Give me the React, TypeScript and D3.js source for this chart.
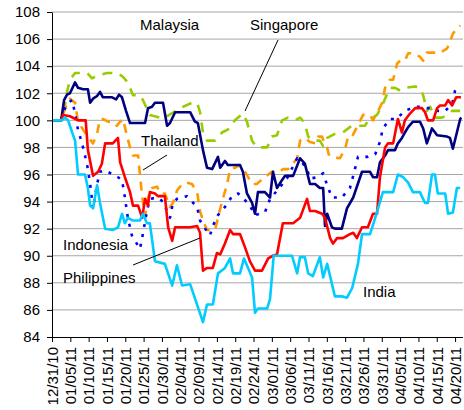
import React, { useEffect, useRef } from "react";
import * as d3 from "d3";

// day offsets from 12/31/10, index values (start = 100)
const malaysia: [number, number][] = [
  [0, 100], [2.5, 100], [3.3, 101.5], [4.1, 101.9], [4.9, 102], [6.3, 102.8], [7.1, 102.4], [8.5, 102.3],
  [9.8, 102.3], [10.4, 101.3], [11.2, 101.6], [12.3, 101.8], [13.1, 102.1], [13.9, 101.7], [16.4, 101.7],
  [17.5, 101.55], [18.3, 101.9], [19.1, 101.7], [20.2, 100.7], [21.3, 99.8], [25.4, 99.8], [26.2, 100.9],
  [27.3, 101], [28.1, 101.3], [30.3, 101.3], [31.4, 99.6], [32.2, 99.8], [33.6, 100.6], [37.7, 100.6],
  [39, 99.9], [39.8, 99.8], [41.2, 97.8], [42.3, 96.5], [43.7, 96.4], [45.3, 97.3], [45.9, 96.5], [47.2, 97],
  [48, 96.7], [51.3, 96.7], [52.1, 96.2], [53.2, 94.6], [54.6, 93.9], [55.4, 93.1], [56.2, 94.7], [58.1, 94.7],
  [59.5, 94.3], [60.3, 96.2], [61.4, 95], [62.8, 95.6], [63.6, 95.9], [65.8, 95.9], [67.7, 97.2], [69, 96.8],
  [70.4, 95.3], [71.8, 95.3], [73.1, 95], [74, 95], [74.5, 92.2], [75.1, 93.1], [76.4, 92.1], [77.2, 92],
  [79.1, 92], [80.5, 93.5], [82.2, 94.3], [84.6, 96.2], [86.8, 96.2], [87.6, 95.8], [88.7, 95.8], [89.5, 96.9],
  [90.9, 97.4], [91.7, 97.8], [93.6, 97.8], [94.4, 98.3], [95.5, 98.7], [96.3, 99.1], [97.2, 99.5], [98.5, 99.9],
  [100.4, 99.9], [101.3, 99.4], [102.3, 98.3], [103.7, 99.4], [105.1, 98.9], [107.8, 98.8], [108.6, 98.7],
  [109.4, 97.9], [111.4, 100.1], [111.7, 100.2],
];

const philippines: [number, number][] = [
  [0, 100], [2.5, 100], [3, 100.4], [4.9, 100.3], [7.1, 100], [9.2, 100], [9.8, 97.8], [11.2, 95.9],
  [12.6, 96.2], [13.6, 96.8], [14.5, 98.3], [16.6, 98.3], [18, 98.7], [18.6, 96.9], [19.9, 95.8], [21.3, 94.7],
  [22.1, 93.7], [23.5, 93.7], [24.6, 92.8], [25.4, 94.2], [26.2, 93.7], [26.7, 94.7], [28.1, 94.6], [28.9, 94.4],
  [30.8, 94.4], [31.7, 92.1], [32.8, 91.1], [33.6, 92.1], [37.7, 92.1], [39.6, 92.2], [40.4, 91.7], [41.2, 88.9],
  [42.3, 89.1], [43.9, 89.1], [45, 90.2], [45.9, 90.1], [47.2, 90.9], [48.6, 91.9], [49.4, 91.6], [51.3, 91.6],
  [52.7, 90.6], [54, 89.6], [55.4, 88.9], [57.3, 88.9], [59, 89.8], [60.3, 90], [61.4, 90.1], [63, 92.4],
  [65.8, 92.4], [67.7, 92.8], [69.6, 94.2], [70.4, 93.3], [71.8, 93.3], [73.7, 93.1], [74.5, 92.8], [75.9, 91.3],
  [76.7, 90.9], [77.8, 91.3], [79.4, 91.3], [81.3, 91.6], [82.2, 91.7], [83.2, 91.3], [84.6, 92.1], [86.2, 92.1],
  [87.6, 93.1], [88.7, 93.1], [89.5, 95.8], [90.9, 98], [91.7, 98.3], [93.1, 98.3], [94.4, 100.1], [95.5, 99.1],
  [96.3, 100], [97.7, 100.5], [99.1, 100.9], [101, 100.9], [101.8, 100.6], [102.6, 100], [104, 100],
  [105.1, 100.9], [105.9, 101.1], [107.3, 101.1], [108.1, 101.5], [109.2, 101.1], [110.3, 101.7], [111.6, 101.7],
];

const india: [number, number][] = [
  [0, 100], [2.7, 100], [3.5, 100.2], [4.4, 100], [5.5, 99.1], [6.3, 98.5], [7.1, 96], [9, 96], [9.8, 95],
  [10.4, 93.7], [11.2, 93.5], [12.3, 95.2], [13.1, 93.9], [14.5, 92], [16.6, 91.9], [18, 92.1], [19.1, 93.1],
  [19.9, 92.4], [20.7, 92.8], [22.1, 92.6], [24, 92.6], [24.8, 93.1], [25.9, 92.4], [26.7, 92.4], [28.1, 89.6],
  [30.8, 89.4], [32.8, 87.8], [34.1, 89.3], [35.5, 87.8], [37.7, 87.9], [41.2, 85.1], [42.3, 86.4], [43.9, 86.4],
  [45.3, 88.7], [47.2, 89.1], [48.6, 89.8], [49.4, 88.7], [51.3, 88.7], [52.4, 89.8], [53.5, 89.1], [54.6, 88.4],
  [55.4, 85.8], [56.2, 86.1], [58.7, 86.1], [59.5, 86.8], [60.5, 90], [65.5, 90], [66.9, 88.7], [67.7, 89.9],
  [69, 89.9], [69.9, 88.7], [71.2, 88.5], [73.1, 89.9], [74, 88.4], [75.1, 89.4], [77.2, 87], [79.1, 87],
  [80.5, 86.9], [81.9, 87.6], [83.5, 89.4], [84.6, 91.6], [86.8, 91.6], [88.2, 92.8], [90.3, 94.7], [93.1, 94.7],
  [94.4, 96], [95.8, 95.8], [97.2, 95.4], [98.5, 94.7], [100.4, 94.7], [101.8, 93.9], [102.6, 93.9], [103.7, 96],
  [104.5, 96], [105.3, 94.6], [107.3, 94.6], [108.1, 93.1], [109.4, 93.2], [110.5, 95], [111.4, 95],
];

const singapore: [number, number][] = [
  [0, 100], [2.5, 100], [3.5, 101], [4.1, 102.1], [4.9, 103], [6.3, 103.5], [9.6, 103.5], [10.9, 103.1],
  [12.3, 103.3], [15, 103.5], [18, 103.5], [19.4, 103.2], [20.7, 102.8], [22.1, 101.85], [24, 101.85],
  [24.8, 101.5], [26.7, 100.4], [29.5, 100.2], [30.8, 100.2], [34.9, 100.9], [38.2, 101.3], [39.6, 101.3],
  [40.4, 100.6], [41.2, 99.1], [42.3, 98.5], [44.5, 98.5], [46.4, 99.1], [48.6, 99.4], [49.9, 100], [52.1, 100.5],
  [53.2, 99.9], [54.6, 98.5], [55.9, 98], [58.7, 98], [60, 98.8], [61.4, 98.9], [62.8, 100], [64.4, 100.2],
  [66.3, 100], [67.7, 100.2], [69, 99.8], [69.9, 98.8], [71, 98.5], [73.1, 98.5], [74, 98.1], [75.1, 98.7],
  [77.2, 99], [79.4, 99.1], [81.3, 99.5], [82.7, 99.6], [85.4, 99.6], [86.8, 100.2], [87.6, 100.2], [88.7, 100.4],
  [90.1, 101.1], [90.9, 101.6], [92.2, 102.4], [93.6, 102.4], [95, 102.2], [96.3, 102.4], [99.1, 102.5],
  [100.4, 102.4], [101.3, 101.85], [102.3, 100.7], [103.2, 101], [104.5, 100.2], [106.4, 100.2], [108.1, 100.4],
  [109.2, 100.7], [111.4, 100.7],
];

const thailand: [number, number][] = [
  [0, 100], [2.5, 100], [4.1, 101.3], [4.9, 101.6], [6.3, 101.3], [7.1, 99.9], [8.5, 99.3], [9.8, 98.8],
  [11.2, 98.3], [12.3, 99], [13.1, 100.1], [13.9, 100.1], [15.3, 99.9], [16.6, 99.9], [17.7, 99.6], [18.6, 99.9],
  [19.4, 100.1], [20.5, 98.8], [21.3, 98], [22.1, 97.4], [23.5, 97.4], [24, 96], [24.6, 94.4], [25.4, 92.9],
  [26.2, 94.3], [27.3, 95], [28.7, 95.1], [29.5, 94.6], [30.8, 94.6], [32.2, 93.6], [33, 93.9], [34.1, 94.8],
  [35.5, 95.3], [36.8, 95.4], [38.2, 95.3], [39.6, 94.7], [40.4, 93.3], [41.2, 92.6], [42.3, 91.9], [44.5, 91.9],
  [45.3, 92.8], [46.4, 94], [47.8, 95.3], [48.6, 96.4], [49.9, 96.5], [51.3, 96.7], [52.7, 96.2], [54.6, 95.3],
  [55.9, 95.3], [57.6, 95.7], [60, 96.2], [62.2, 96.2], [63, 96.4], [64.4, 96.4], [65.5, 96.7], [66.9, 97.2],
  [67.7, 98.5], [69, 98.7], [70.4, 98.4], [71.8, 98.3], [72.6, 98.8], [73.7, 98.8], [74.2, 98.4], [75.1, 98],
  [75.5, 97.5], [76.4, 97.3], [78.6, 97.2], [80, 97.9], [80.8, 98.8], [81.9, 98.8], [83.2, 99.5], [84.9, 100.4],
  [86.8, 100.4], [87.6, 100], [89, 100.7], [90.1, 101.3], [90.9, 102.4], [92.2, 103], [93.1, 103], [94.2, 104.2],
  [95, 104.4], [96.3, 104.4], [97.2, 104.95], [98.5, 104.95], [100.4, 104.7], [101.3, 104.4], [102.3, 105],
  [105.9, 105], [107.8, 105.3], [108.6, 105.8], [109.4, 106.4], [110.5, 106.8], [111.4, 107],
];

const indonesia: [number, number][] = [
  [0, 100], [2.5, 100], [3, 100.6], [4.4, 101.3], [5.5, 101.5], [6.3, 100.5], [7.1, 99.3], [8.2, 98.3],
  [9.6, 96.7], [10.4, 95.3], [11.2, 93.5], [12.3, 95.3], [13.1, 96.2], [14.5, 96.3], [16.6, 96], [18, 95.8],
  [19.1, 95.6], [19.9, 94.3], [20.7, 92.8], [21.8, 91.5], [24, 90.5], [24.8, 91.6], [25.9, 93.3], [26.7, 94.2],
  [28.7, 94.3], [30.3, 94], [31.4, 93.3], [32.2, 92.8], [33, 93.9], [34.1, 94.2], [36.8, 94.4], [39.6, 93.6],
  [40.4, 92.6], [41.8, 92], [43.1, 91.5], [43.9, 92.2], [45.3, 93], [47.8, 93.8], [49.1, 94.4], [50.8, 94.6],
  [52.7, 94.1], [54, 93.7], [55.4, 93], [58.1, 93.2], [59.5, 94.2], [61.7, 94.9], [64.1, 95.7], [66.9, 97.2],
  [68.2, 96.9], [69.6, 96.4], [70.4, 95.7], [72.6, 95.8], [74, 96.1], [75.1, 95.2], [76.4, 94.3], [79.1, 94.3],
  [81.3, 95], [82.2, 95.9], [83.5, 97.3], [86, 97.3], [88.2, 97.5], [89.5, 98.4], [90.3, 99.4], [92.2, 100.1],
  [94, 100.1], [96.3, 100.7], [99.1, 101], [100.4, 101], [102.3, 100.9], [103.7, 100.9], [105.3, 100.7],
  [107.3, 100.7], [109.2, 101.2], [110, 102.2], [110.5, 102.5],
];

const startDate = new Date(2010, 11, 31);
const yTicks = d3.range(84, 109, 2);
const xTickDays = d3.range(0, 111, 5);

const series = [
  { name: "Singapore", data: singapore, color: "#99cc00", dash: "10,8" },
  { name: "Thailand", data: thailand, color: "#ff9900", dash: "9,7" },
  { name: "Indonesia", data: indonesia, color: "#0000ff", dash: "3,7" },
  { name: "Malaysia", data: malaysia, color: "#000080", dash: null },
  { name: "Philippines", data: philippines, color: "#ff0000", dash: null },
  { name: "India", data: india, color: "#00ccff", dash: null },
];

const FONT = "Arial, 'Liberation Sans', sans-serif";

const App: React.FC = () => {
  const svgRef = useRef<SVGSVGElement | null>(null);

  useEffect(() => {
    if (!svgRef.current) return;
    const svg = d3.select(svgRef.current);
    svg.selectAll("*").remove();

    const left = 52, right = 462.4, top = 12, bottom = 337;

    const x = d3.scaleLinear().domain([0, 112]).range([left, right]);
    const y = d3.scaleLinear().domain([84, 108]).range([bottom, top]);
    const fmt = d3.timeFormat("%m/%d/%y");

    // gridlines
    svg.append("g")
      .selectAll("line")
      .data(yTicks.filter((t) => t !== 84))
      .join("line")
      .attr("x1", left)
      .attr("x2", 463)
      .attr("y1", (d) => y(d))
      .attr("y2", (d) => y(d))
      .attr("stroke", "#a6a6a6")
      .attr("stroke-width", 1);

    const line = d3.line<[number, number]>()
      .x((d) => x(d[0]))
      .y((d) => y(d[1]));

    series.forEach((s) => {
      svg.append("path")
        .datum(s.data)
        .attr("d", line)
        .attr("fill", "none")
        .attr("stroke", s.color)
        .attr("stroke-width", 2.6)
        .attr("stroke-linejoin", "round")
        .attr("stroke-dasharray", s.dash);
    });

    // y axis
    svg.append("g")
      .attr("transform", `translate(${left},0)`)
      .call(d3.axisLeft(y).tickValues(yTicks).tickSize(5).tickSizeOuter(0).tickPadding(7))
      .call((g) => g.selectAll("text").style("font-family", FONT).attr("font-size", "15px").attr("fill", "#000"));

    // x axis
    const xg = svg.append("g")
      .attr("transform", `translate(0,${bottom})`)
      .call(
        d3.axisBottom(x)
          .tickValues(xTickDays)
          .tickSize(5)
          .tickSizeOuter(0)
          .tickFormat((d) => fmt(d3.timeDay.offset(startDate, d as number)))
      );
    xg.select(".domain").attr("d", `M${left},0.5H463`);
    xg.selectAll("text")
      .attr("transform", "rotate(-90)")
      .attr("x", -10)
      .attr("y", 0)
      .attr("dy", "0.35em")
      .style("text-anchor", "end")
      .style("font-family", FONT)
      .attr("font-size", "15px")
      .attr("fill", "#000");

    // labels and leader lines
    const labels = [
      { t: "Malaysia", x: 140, y: 30 },
      { t: "Singapore", x: 250, y: 30 },
      { t: "Thailand", x: 141, y: 146 },
      { t: "Indonesia", x: 63, y: 250 },
      { t: "Philippines", x: 63, y: 283 },
      { t: "India", x: 363, y: 297 },
    ];
    svg.append("g")
      .selectAll("text")
      .data(labels)
      .join("text")
      .attr("x", (d) => d.x)
      .attr("y", (d) => d.y)
      .text((d) => d.t)
      .style("font-family", FONT)
      .attr("font-size", "15px")
      .attr("fill", "#000");

    const leaders = [
      [278, 40, 245, 111],
      [167, 155, 143, 170],
      [133, 265, 200, 238],
    ];
    svg.append("g")
      .selectAll("line")
      .data(leaders)
      .join("line")
      .attr("x1", (d) => d[0])
      .attr("y1", (d) => d[1])
      .attr("x2", (d) => d[2])
      .attr("y2", (d) => d[3])
      .attr("stroke", "#000")
      .attr("stroke-width", 1);
  }, []);

  return (
    <svg
      ref={svgRef}
      width={464}
      height={410}
      style={{ position: "absolute", left: 0, top: 0, background: "#fff" }}
    />
  );
};

export default App;
